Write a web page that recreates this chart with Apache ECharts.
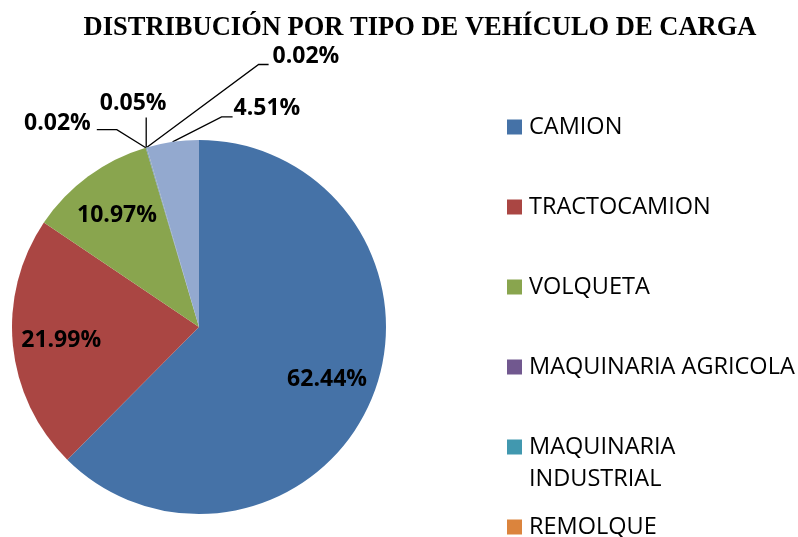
<!DOCTYPE html>
<html>
<head>
<meta charset="utf-8">
<title>Distribución por tipo de vehículo de carga</title>
<script src="https://cdn.jsdelivr.net/npm/echarts@6/dist/echarts.min.js"></script>
<style>
  html, body { margin: 0; padding: 0; background: #fff; }
  #chart { width: 798px; height: 537px; }
</style>
</head>
<body>
<div id="chart"></div>
<script>
const categories = ['CAMION', 'TRACTOCAMION', 'VOLQUETA', 'MAQUINARIA AGRICOLA', 'MAQUINARIA INDUSTRIAL', 'REMOLQUE', 'SEMIRREMOLQUE']
const percentages = [62.44, 21.99, 10.97, 0.02, 0.05, 0.02, 4.51]
const colors = ['#4572A7', '#AA4643', '#89A54E', '#71588F', '#4198AF', '#DB843D', '#93A9CF']
// the last category's legend entry falls below the picture
const legendNames = categories.slice(0, 6)

const center = [199, 327]
const radius = 187
const labelFont = 'Open Sans'

// leader lines of the small slices, measured from the slice edge point
const smallLabels = {
  3: { bend: [-29, -18], end: [-49, -18], text: [-55, -24], align: 'right' },
  4: { bend: [0, -30], end: [0, -30], text: [-13, -44], align: 'center' },
  5: { bend: [112, -83], end: [122, -83], text: [126, -91], align: 'left' },
  6: { bend: [49, -25], end: [60, -25], text: [61, -33], align: 'left' }
}

const pctFormatter = (p) => p.value.toFixed(2) + '%'
const labelText = {
  fontFamily: labelFont,
  fontSize: 23,
  fontWeight: 'bold',
  color: '#000'
}

const chart = echarts.init(document.getElementById('chart'))

chart.setOption({
  animation: false,
  title: {
    text: 'DISTRIBUCIÓN POR TIPO DE VEHÍCULO DE CARGA',
    left: 415,
    top: 10,
    textAlign: 'center',
    textStyle: {
      fontFamily: 'Liberation Serif',
      fontWeight: 'bold',
      fontSize: 26.5,
      color: '#000'
    }
  },
  legend: legendNames.map((name, i) => {
    const twoLines = name === 'MAQUINARIA INDUSTRIAL'
    const mid = 127 + 80 * i
    return {
      data: [name],
      left: 507,
      top: twoLines ? mid - 48 : mid - 16,
      orient: 'vertical',
      padding: 0,
      itemWidth: 15,
      itemHeight: 15,
      icon: 'rect',
      selectedMode: false,
      // empty first line keeps the marker level with "MAQUINARIA"
      formatter: (n) => n === 'MAQUINARIA INDUSTRIAL' ? ' \nMAQUINARIA\nINDUSTRIAL' : n,
      textStyle: {
        fontFamily: labelFont,
        fontSize: 23.5,
        color: '#000',
        lineHeight: 32,
        padding: [0, 0, 0, 2]
      }
    }
  }),
  series: [{
    name: 'Tipo',
    type: 'pie',
    center: center,
    radius: radius,
    startAngle: 90,
    clockwise: true,
    avoidLabelOverlap: false,
    emphasis: { disabled: true },
    itemStyle: { borderWidth: 0 },
    data: categories.map((name, i) => ({
      name: name,
      value: percentages[i],
      itemStyle: { color: colors[i] },
      label: { show: i in smallLabels },
      labelLine: { show: i in smallLabels }
    })),
    label: Object.assign({ position: 'outside', formatter: pctFormatter }, labelText),
    labelLine: {
      length: 10,
      length2: 10,
      smooth: false,
      lineStyle: { color: '#000', width: 1.3 }
    },
    labelLayout: function(params) {
      const s = smallLabels[params.dataIndex]
      if (!s || !params.labelLinePoints) {
        return
      }
      const a = params.labelLinePoints[0]
      return {
        x: a[0] + s.text[0],
        y: a[1] + s.text[1],
        align: s.align,
        verticalAlign: 'middle',
        labelLinePoints: [
          [a[0], a[1]],
          [a[0] + s.bend[0], a[1] + s.bend[1]],
          [a[0] + s.end[0], a[1] + s.end[1]]
        ]
      }
    }
  }, {
    // transparent ring that only carries the labels inside the big slices
    name: 'Etiquetas',
    type: 'pie',
    center: center,
    radius: [84, radius],
    startAngle: 90,
    clockwise: true,
    silent: true,
    emphasis: { disabled: true },
    data: categories.map((name, i) => ({
      name: name,
      value: percentages[i],
      itemStyle: { color: 'rgba(0,0,0,0)' },
      label: { show: i < 3 }
    })),
    label: Object.assign({ position: 'inside', formatter: pctFormatter }, labelText),
    labelLine: { show: false }
  }]
})
</script>
</body>
</html>
